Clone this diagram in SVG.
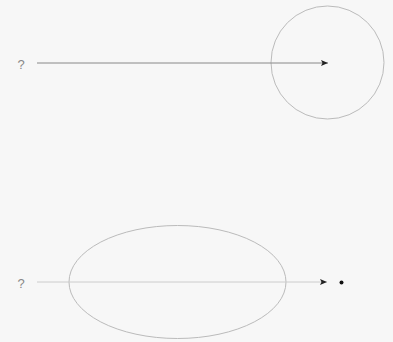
<svg xmlns="http://www.w3.org/2000/svg" width="393" height="342" viewBox="0 0 393 342">
<style>
.lbl{font-family:"Liberation Sans",Arial,sans-serif;font-size:13px;fill:#888}
.shape{fill:none;stroke:#bbb;stroke-width:1}
</style>
<defs>
<marker id="ah" markerWidth="8" markerHeight="6" refX="7" refY="3" orient="auto" markerUnits="userSpaceOnUse">
<path d="M0,0 L7,3 L0,6 L1.5,3 Z" fill="#222"/>
</marker>
</defs>
<rect width="393" height="342" fill="#f7f7f7"/>
<g id="circle-node"><circle class="shape" cx="327.5" cy="62.5" r="56.5"/></g>
<g id="ellipse-node"><ellipse class="shape" cx="177.5" cy="282" rx="108.5" ry="56.5"/></g>
<g id="dot-node"><circle cx="341.5" cy="282.5" r="2" fill="#111"/></g>
<g id="label-top"><text class="lbl" x="17.5" y="68.5">?</text></g>
<g id="label-bottom"><text class="lbl" x="17.5" y="287.5">?</text></g>
<g id="connectors">
<line x1="37" y1="63" x2="328" y2="63" stroke="#888" stroke-width="1" marker-end="url(#ah)"/>
<line x1="37" y1="282" x2="327" y2="282" stroke="#ccc" stroke-width="1" marker-end="url(#ah)"/>
</g>
</svg>
